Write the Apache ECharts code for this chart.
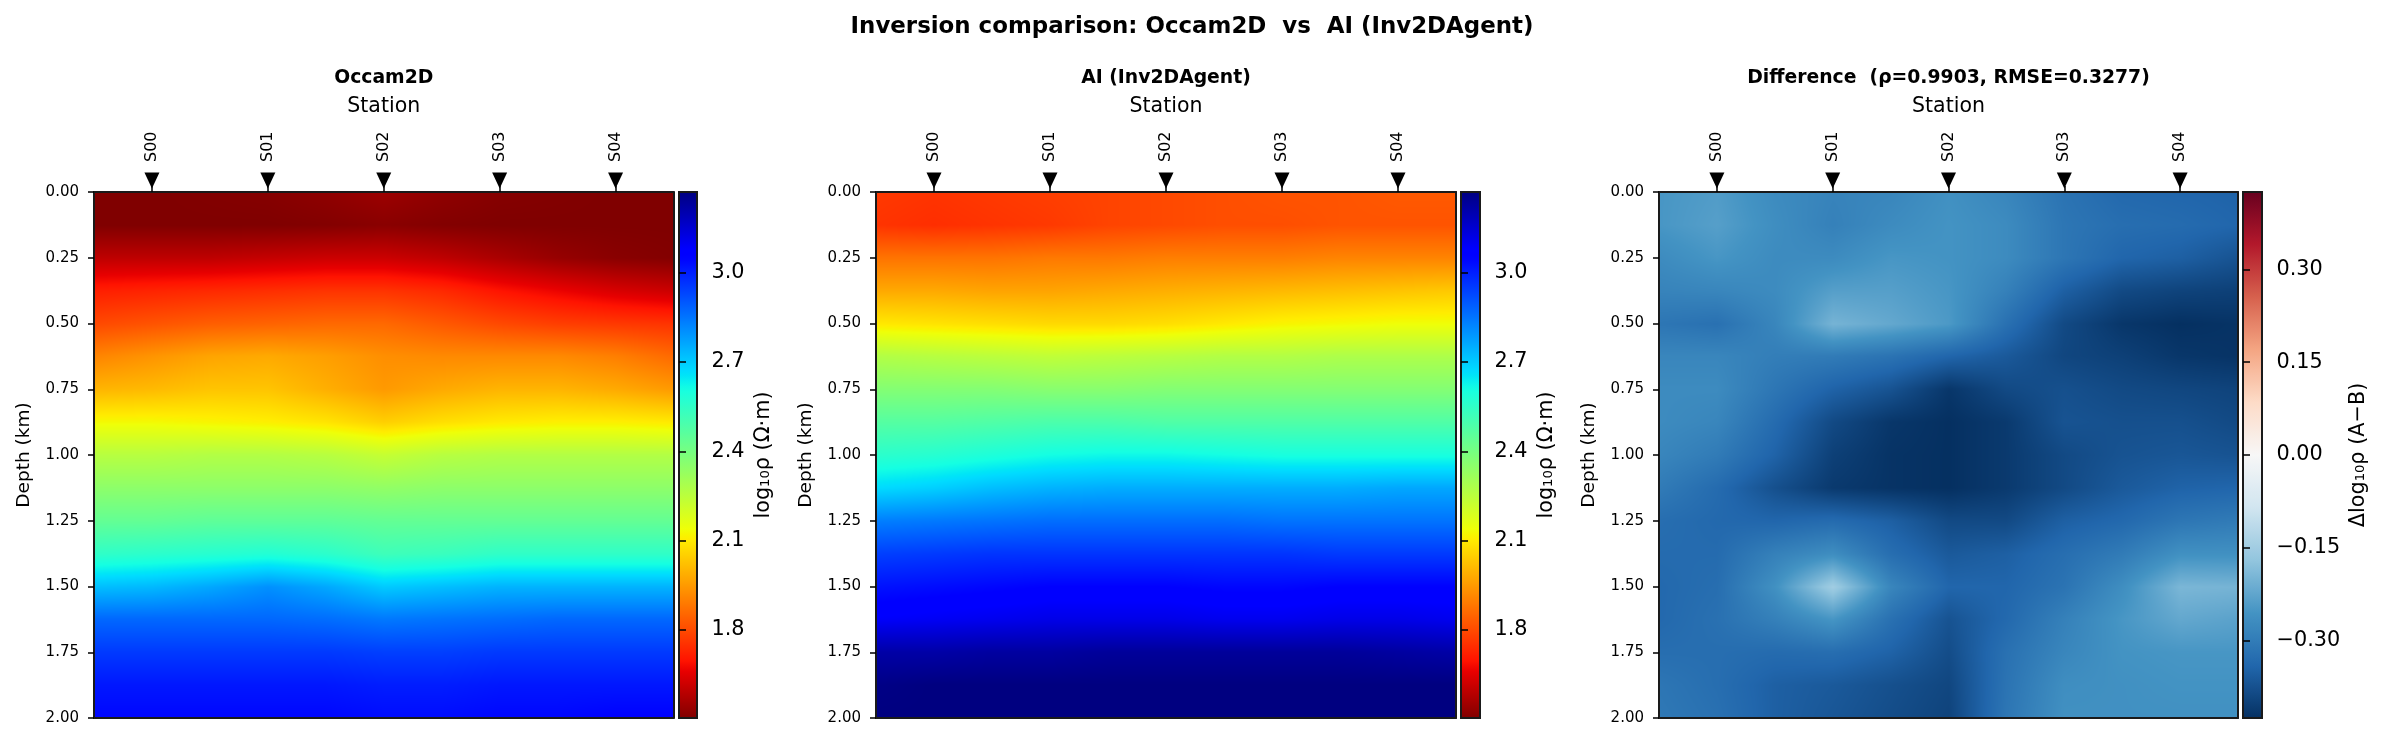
<!DOCTYPE html>
<html><head><meta charset="utf-8">
<style>html,body{margin:0;padding:0;background:#fff}#c{width:2383px;height:744px}</style>
<script src="https://cdn.jsdelivr.net/npm/echarts@6/dist/echarts.min.js"></script>
</head><body><div id="c"></div>
<script>
const stations = ['S00','S01','S02','S03','S04'];
const stationPos = [0,1,2,3,4];
const markerDepth = -0.044;
const colPos = [-0.5,0,0.5,1,1.5,2,2.5,3,3.5,4,4.5];
const depthPos = [0,0.125,0.25,0.375,0.5,0.625,0.75,0.875,1,1.125,1.25,1.375,1.5,1.625,1.75,1.875,2];
const depthTicks = [0,0.25,0.5,0.75,1,1.25,1.5,1.75,2];
const rhoTicks = [1.8,2.1,2.4,2.7,3.0];
const diffTicks = [-0.30,-0.15,0,0.15,0.30];
const rhoRange = [1.505,3.27];
const diffRange = [-0.425,0.425];

const occamValues = [
[1.505,1.505,1.51,1.515,1.53,1.55,1.53,1.515,1.51,1.505,1.505],
[1.505,1.505,1.505,1.505,1.51,1.52,1.51,1.505,1.505,1.505,1.505],
[1.60,1.60,1.60,1.61,1.62,1.62,1.60,1.57,1.54,1.52,1.51],
[1.72,1.73,1.74,1.75,1.76,1.76,1.74,1.70,1.67,1.64,1.62],
[1.80,1.82,1.84,1.85,1.86,1.86,1.83,1.80,1.78,1.77,1.76],
[1.91,1.94,1.97,1.98,1.96,1.93,1.92,1.92,1.92,1.90,1.86],
[2.00,2.01,2.03,2.03,1.99,1.95,1.98,2.00,2.00,1.98,1.95],
[2.13,2.13,2.12,2.11,2.09,2.05,2.08,2.10,2.11,2.11,2.10],
[2.26,2.26,2.27,2.27,2.26,2.23,2.26,2.27,2.27,2.27,2.27],
[2.35,2.35,2.35,2.35,2.35,2.34,2.35,2.35,2.35,2.35,2.35],
[2.44,2.44,2.45,2.45,2.45,2.44,2.44,2.44,2.44,2.44,2.44],
[2.55,2.56,2.57,2.58,2.56,2.52,2.53,2.55,2.55,2.55,2.55],
[2.72,2.73,2.76,2.80,2.76,2.70,2.72,2.74,2.74,2.74,2.74],
[2.87,2.87,2.87,2.87,2.86,2.84,2.85,2.86,2.87,2.87,2.87],
[2.95,2.95,2.95,2.95,2.95,2.94,2.94,2.95,2.95,2.95,2.95],
[3.01,3.01,3.01,3.01,3.01,3.00,3.00,3.01,3.01,3.01,3.01],
[3.04,3.04,3.04,3.04,3.04,3.03,3.03,3.04,3.04,3.05,3.05]
];
const agentValues = [
[1.77,1.76,1.77,1.78,1.79,1.80,1.81,1.82,1.82,1.83,1.83],
[1.76,1.75,1.76,1.77,1.79,1.80,1.81,1.81,1.82,1.82,1.82],
[1.88,1.88,1.88,1.89,1.89,1.90,1.90,1.90,1.91,1.91,1.91],
[1.98,1.98,1.97,1.97,1.98,1.99,2.00,2.01,2.02,2.03,2.04],
[2.10,2.09,2.08,2.07,2.07,2.08,2.10,2.12,2.13,2.14,2.14],
[2.27,2.26,2.25,2.24,2.25,2.26,2.27,2.27,2.28,2.28,2.28],
[2.37,2.37,2.37,2.36,2.36,2.37,2.37,2.37,2.37,2.37,2.37],
[2.47,2.47,2.48,2.49,2.49,2.48,2.48,2.48,2.48,2.48,2.48],
[2.56,2.57,2.59,2.61,2.62,2.62,2.61,2.60,2.60,2.60,2.60],
[2.67,2.69,2.72,2.74,2.75,2.75,2.75,2.75,2.75,2.76,2.76],
[2.83,2.84,2.85,2.86,2.86,2.86,2.86,2.85,2.85,2.85,2.85],
[2.94,2.95,2.96,2.96,2.96,2.96,2.96,2.96,2.95,2.95,2.95],
[3.02,3.03,3.04,3.05,3.05,3.05,3.04,3.04,3.05,3.05,3.05],
[3.08,3.09,3.10,3.11,3.11,3.11,3.10,3.10,3.11,3.11,3.10],
[3.21,3.21,3.22,3.22,3.23,3.23,3.23,3.23,3.23,3.22,3.21],
[3.26,3.27,3.27,3.27,3.27,3.27,3.27,3.27,3.27,3.27,3.27],
[3.27,3.27,3.27,3.27,3.27,3.27,3.27,3.27,3.27,3.27,3.27]
];
const diffValues = [
[-.25,-.24,-.27,-.285,-.28,-.26,-.28,-.315,-.335,-.34,-.345],
[-.25,-.235,-.265,-.29,-.27,-.255,-.27,-.31,-.325,-.33,-.34],
[-.27,-.25,-.27,-.27,-.25,-.255,-.27,-.31,-.34,-.35,-.37],
[-.285,-.28,-.27,-.235,-.235,-.25,-.29,-.35,-.385,-.395,-.40],
[-.31,-.32,-.28,-.20,-.22,-.245,-.32,-.385,-.415,-.425,-.42],
[-.28,-.28,-.295,-.30,-.315,-.34,-.36,-.39,-.40,-.415,-.42],
[-.27,-.27,-.31,-.345,-.37,-.415,-.385,-.375,-.385,-.39,-.395],
[-.27,-.28,-.33,-.385,-.415,-.425,-.41,-.37,-.375,-.375,-.385],
[-.28,-.30,-.345,-.40,-.42,-.425,-.41,-.385,-.37,-.365,-.37],
[-.30,-.33,-.375,-.41,-.42,-.425,-.41,-.385,-.36,-.345,-.34],
[-.325,-.335,-.34,-.33,-.35,-.385,-.385,-.35,-.335,-.31,-.30],
[-.33,-.33,-.29,-.265,-.325,-.36,-.35,-.325,-.30,-.26,-.26],
[-.335,-.325,-.26,-.15,-.28,-.34,-.34,-.315,-.265,-.195,-.20],
[-.335,-.32,-.29,-.25,-.32,-.37,-.335,-.29,-.25,-.22,-.23],
[-.325,-.325,-.33,-.325,-.345,-.38,-.32,-.28,-.255,-.25,-.25],
[-.31,-.325,-.35,-.36,-.375,-.39,-.315,-.265,-.26,-.255,-.255],
[-.305,-.32,-.35,-.365,-.38,-.395,-.31,-.26,-.26,-.26,-.26]
];

const panelTitles = ['Occam2D','AI (Inv2DAgent)','Difference  (ρ=0.9903, RMSE=0.3277)'];
const cbarNames = ['log₁₀ρ (Ω·m)','log₁₀ρ (Ω·m)','Δlog₁₀ρ (A−B)'];
const suptitle = 'Inversion comparison: Occam2D  vs  AI (Inv2DAgent)';

// colormaps
function jetR(t){ // t in 0..1 → jet_r
  const s = 1 - t;
  const seg = (p)=>{ for(let i=1;i<p.length;i++){ if(s<=p[i][0]){ const a=p[i-1],b=p[i]; return a[1]+(b[1]-a[1])*(s-a[0])/(b[0]-a[0]); } } return p[p.length-1][1]; };
  const r = seg([[0,0],[.35,0],[.66,1],[.89,1],[1,.5]]);
  const g = seg([[0,0],[.125,0],[.375,1],[.64,1],[.91,0],[1,0]]);
  const b = seg([[0,.5],[.11,1],[.34,1],[.65,0],[1,0]]);
  return [r*255,g*255,b*255];
}
const rdbuAnchors = [[5,48,97],[33,102,172],[67,147,195],[146,197,222],[209,229,240],[247,247,247],[253,219,199],[244,165,130],[214,96,77],[178,24,43],[103,0,31]];
function rdbuR(t){
  const x = t*10, i = Math.min(9,Math.floor(x)), f = x-i, a=rdbuAnchors[i], b=rdbuAnchors[i+1];
  return [a[0]+(b[0]-a[0])*f,a[1]+(b[1]-a[1])*f,a[2]+(b[2]-a[2])*f];
}
const clamp01 = v=>Math.max(0,Math.min(1,v));

// every cell is shaded between its four corner values, like a gouraud-shaded mesh
function cellCanvas(vals,c,r,w,h,range,cmap){
  const cv = document.createElement('canvas');
  cv.width = w; cv.height = h;
  const ctx = cv.getContext('2d'), im = ctx.createImageData(w,h);
  const v00=vals[r][c], v10=vals[r][c+1], v01=vals[r+1][c], v11=vals[r+1][c+1];
  for(let y=0;y<h;y++){ const fy=(y+.5)/h;
    for(let x=0;x<w;x++){ const fx=(x+.5)/w;
      const v=(v00*(1-fx)+v10*fx)*(1-fy)+(v01*(1-fx)+v11*fx)*fy;
      const col=cmap(clamp01((v-range[0])/(range[1]-range[0])));
      const k=(y*w+x)*4; im.data[k]=col[0]; im.data[k+1]=col[1]; im.data[k+2]=col[2]; im.data[k+3]=255;
    }}
  ctx.putImageData(im,0,0);
  return cv;
}

const font = 'DejaVu Sans', ink = '#000', frame = '#1a1a1a';
const layout = [
 {l:94, w:579.5, cl:679, cw:18, vals:occamValues, range:rhoRange, cmap:jetR, ticks:rhoTicks, fmt:v=>v.toFixed(1)},
 {l:876,w:580,   cl:1461,cw:19, vals:agentValues, range:rhoRange, cmap:jetR, ticks:rhoTicks, fmt:v=>v.toFixed(1)},
 {l:1659,w:579,  cl:2243,cw:19, vals:diffValues,  range:diffRange,cmap:rdbuR,ticks:diffTicks,fmt:v=>v.toFixed(2).replace('-','−')}
];
const T=192, H=526;
const grid=[],xAxis=[],yAxis=[],series=[],title=[];
title.push({text:suptitle,left:1187,top:11,textAlign:'center',textStyle:{fontFamily:font,fontSize:22.9,fontWeight:'bold',color:ink}});

layout.forEach((p,idx)=>{
  const gm=grid.length;
  grid.push({left:p.l,top:T,width:p.w,height:H});
  const gc=grid.length;
  grid.push({left:p.cl,top:T,width:p.cw,height:H});
  title.push({text:panelTitles[idx],left:p.l+p.w/2-5,top:64,textAlign:'center',textStyle:{fontFamily:font,fontSize:18.8,fontWeight:'bold',color:ink}});

  const xMain=xAxis.length;
  xAxis.push({gridIndex:gm,type:'value',position:'top',min:-0.5,max:4.5,z:10,
    name:'Station',nameLocation:'middle',nameGap:75,nameTextStyle:{fontFamily:font,fontSize:20.5,color:ink},
    splitLine:{show:false},
    axisLine:{show:true,lineStyle:{color:frame,width:2}},
    axisTick:{show:true,length:6,lineStyle:{color:ink,width:1.5},customValues:stationPos},
    axisLabel:{show:true,rotate:90,margin:30,fontFamily:font,fontSize:16,color:ink,customValues:stationPos,formatter:v=>stations[v]}});
  xAxis.push({gridIndex:gm,type:'value',position:'bottom',min:-0.5,max:4.5,z:10,
    splitLine:{show:false},axisTick:{show:false},axisLabel:{show:false},axisLine:{show:true,onZero:false,lineStyle:{color:frame,width:2}}});
  const yMain=yAxis.length;
  yAxis.push({gridIndex:gm,type:'value',inverse:true,min:0,max:2,interval:0.25,position:'left',z:10,
    name:'Depth (km)',nameLocation:'middle',nameGap:60,nameTextStyle:{fontFamily:font,fontSize:18.5,color:ink},
    splitLine:{show:false},
    axisLine:{show:true,onZero:false,lineStyle:{color:frame,width:2}},
    axisTick:{show:true,length:6,lineStyle:{color:ink,width:1.5}},
    axisLabel:{margin:15,padding:[3,0,0,0],fontFamily:font,fontSize:15,color:ink,formatter:v=>v.toFixed(2)}});
  yAxis.push({gridIndex:gm,type:'value',inverse:true,min:0,max:2,position:'right',z:10,
    splitLine:{show:false},axisTick:{show:false},axisLabel:{show:false},axisLine:{show:true,onZero:false,lineStyle:{color:frame,width:2}}});

  const cells=[];
  depthPos.forEach((d,r)=>colPos.forEach((x,c)=>cells.push([x,d,p.vals[r][c],c,r])));
  series.push({type:'custom',xAxisIndex:xMain,yAxisIndex:yMain,coordinateSystem:'cartesian2d',data:cells,animation:false,silent:true,z:2,
    encode:{x:0,y:1},
    renderItem:(params,api)=>{
      const c=api.value(3), r=api.value(4);
      if(c>=colPos.length-1||r>=depthPos.length-1) return null;
      const a=api.coord([colPos[c],depthPos[r]]), b=api.coord([colPos[c+1],depthPos[r+1]]);
      const x0=Math.round(a[0]),x1=Math.round(b[0]),y0=Math.round(a[1]),y1=Math.round(b[1]);
      return {type:'image',silent:true,style:{image:cellCanvas(p.vals,c,r,x1-x0,y1-y0,p.range,p.cmap),x:x0,y:y0,width:x1-x0,height:y1-y0}};
    }});
  series.push({type:'scatter',xAxisIndex:xMain,yAxisIndex:yMain,data:stationPos.map(s=>[s,markerDepth]),clip:false,animation:false,silent:true,z:12,
    symbol:'triangle',symbolRotate:180,symbolSize:[15,16],itemStyle:{color:'#000',opacity:1}});

  // colorbar
  const xC=xAxis.length;
  xAxis.push({gridIndex:gc,type:'value',min:0,max:1,show:false});
  const yC=yAxis.length;
  yAxis.push({gridIndex:gc,type:'value',min:p.range[0],max:p.range[1],position:'right',z:10,
    name:cbarNames[idx],nameLocation:'middle',nameRotate:90,nameGap:idx==2?86:56,nameTextStyle:{fontFamily:font,fontSize:20.8,color:ink},
    splitLine:{show:false},axisLine:{show:false},
    axisTick:{show:true,length:7,lineStyle:{color:ink,width:1.5},customValues:p.ticks},
    axisLabel:{show:true,margin:14.5,padding:[3,0,0,0],fontFamily:font,fontSize:20.8,color:ink,customValues:p.ticks,formatter:p.fmt}});
  const stops=[];
  for(let i=0;i<=100;i++) { const col=p.cmap(1-i/100); stops.push({offset:i/100,color:`rgb(${col.map(Math.round).join(',')})`}); }
  series.push({type:'custom',xAxisIndex:xC,yAxisIndex:yC,coordinateSystem:'cartesian2d',data:[[0,p.range[0],1,p.range[1]]],animation:false,silent:true,z:2,
    encode:{x:[0,2],y:[1,3]},
    renderItem:(params,api)=>{
      const a=api.coord([api.value(0),api.value(3)]), b=api.coord([api.value(2),api.value(1)]);
      return {type:'rect',shape:{x:a[0],y:a[1],width:b[0]-a[0],height:b[1]-a[1]},
        style:{fill:new echarts.graphic.LinearGradient(0,0,0,1,stops),stroke:frame,lineWidth:2}};
    }});
});

const chart=echarts.init(document.getElementById('c'),null,{renderer:'canvas'});
chart.setOption({animation:false,backgroundColor:'#fff',title,grid,xAxis,yAxis,series,tooltip:{show:false}});
</script></body></html>
